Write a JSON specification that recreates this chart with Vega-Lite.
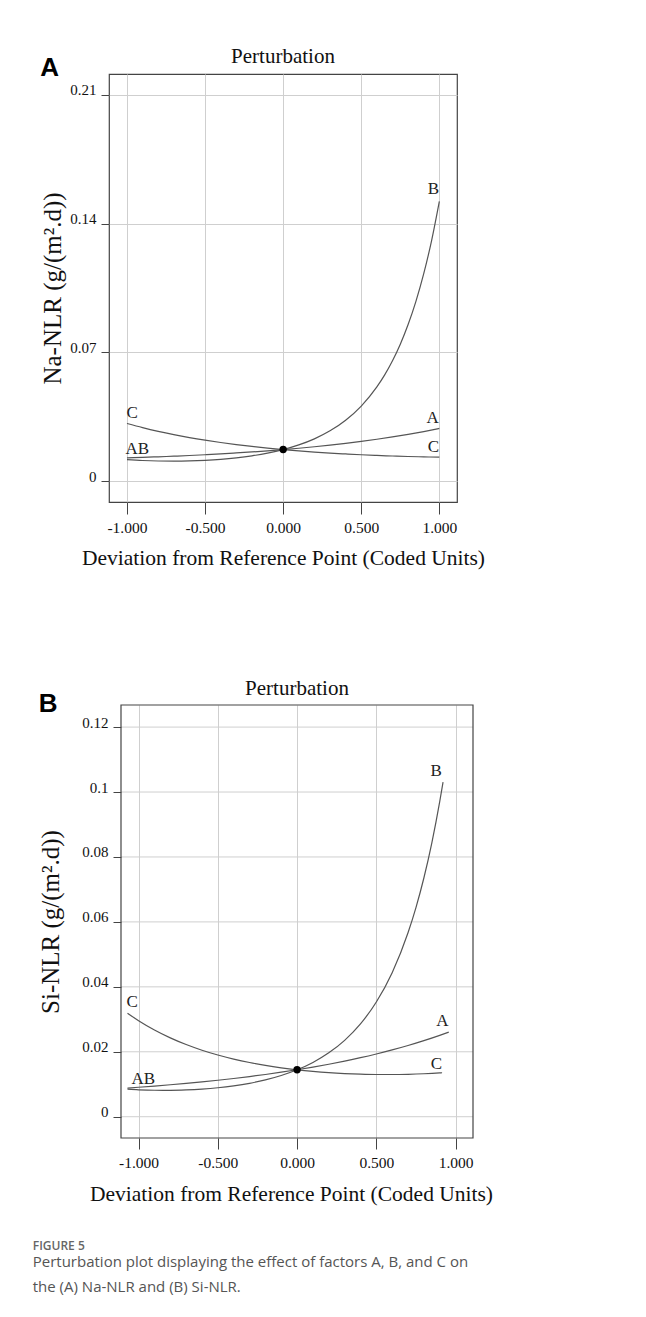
{
  "$schema": "https://vega.github.io/schema/vega-lite/v6.json",
  "background": "white",
  "padding": {"left": 32, "top": 45, "right": 5, "bottom": 5},
  "datasets": {
    "naCurves": [
      {"f":"A","x":-1,"y":0.0127},{"f":"A","x":-0.9,"y":0.01297},{"f":"A","x":-0.8,"y":0.01327},{"f":"A","x":-0.7,"y":0.01361},{"f":"A","x":-0.6,"y":0.01399},{"f":"A","x":-0.5,"y":0.0144},{"f":"A","x":-0.4,"y":0.01486},{"f":"A","x":-0.3,"y":0.01537},{"f":"A","x":-0.2,"y":0.01592},{"f":"A","x":-0.1,"y":0.01653},{"f":"A","x":0,"y":0.0172},{"f":"A","x":0.1,"y":0.01793},{"f":"A","x":0.2,"y":0.01874},{"f":"A","x":0.3,"y":0.01962},{"f":"A","x":0.4,"y":0.02059},{"f":"A","x":0.5,"y":0.02165},{"f":"A","x":0.6,"y":0.02281},{"f":"A","x":0.7,"y":0.02408},{"f":"A","x":0.8,"y":0.02548},{"f":"A","x":0.9,"y":0.02701},{"f":"A","x":1,"y":0.0287},
      {"f":"B","x":-1,"y":0.01176},{"f":"B","x":-0.9,"y":0.01127},{"f":"B","x":-0.8,"y":0.01099},{"f":"B","x":-0.7,"y":0.01091},{"f":"B","x":-0.6,"y":0.01103},{"f":"B","x":-0.5,"y":0.01136},{"f":"B","x":-0.4,"y":0.0119},{"f":"B","x":-0.3,"y":0.0127},{"f":"B","x":-0.2,"y":0.0138},{"f":"B","x":-0.1,"y":0.01527},{"f":"B","x":0,"y":0.0172},{"f":"B","x":0.1,"y":0.01973},{"f":"B","x":0.2,"y":0.02303},{"f":"B","x":0.3,"y":0.02738},{"f":"B","x":0.4,"y":0.03315},{"f":"B","x":0.5,"y":0.04085},{"f":"B","x":0.6,"y":0.05126},{"f":"B","x":0.65,"y":0.0578},{"f":"B","x":0.7,"y":0.06549},{"f":"B","x":0.75,"y":0.0745},{"f":"B","x":0.8,"y":0.08519},{"f":"B","x":0.85,"y":0.0978},{"f":"B","x":0.9,"y":0.11284},{"f":"B","x":0.95,"y":0.1307},{"f":"B","x":1,"y":0.15216},
      {"f":"C","x":-1,"y":0.0314},{"f":"C","x":-0.9,"y":0.02914},{"f":"C","x":-0.8,"y":0.02712},{"f":"C","x":-0.7,"y":0.02533},{"f":"C","x":-0.6,"y":0.02373},{"f":"C","x":-0.5,"y":0.02231},{"f":"C","x":-0.4,"y":0.02104},{"f":"C","x":-0.3,"y":0.01991},{"f":"C","x":-0.2,"y":0.0189},{"f":"C","x":-0.1,"y":0.018},{"f":"C","x":0,"y":0.0172},{"f":"C","x":0.1,"y":0.01649},{"f":"C","x":0.2,"y":0.01586},{"f":"C","x":0.3,"y":0.0153},{"f":"C","x":0.4,"y":0.01482},{"f":"C","x":0.5,"y":0.01439},{"f":"C","x":0.6,"y":0.01402},{"f":"C","x":0.7,"y":0.01371},{"f":"C","x":0.8,"y":0.01345},{"f":"C","x":0.9,"y":0.01323},{"f":"C","x":1,"y":0.01306}
    ],
    "naLabels": [
      {"t":"B","x":0.962,"y":0.156},{"t":"A","x":0.957,"y":0.0316},{"t":"C","x":0.962,"y":0.0159},{"t":"C","x":-0.966,"y":0.0344},{"t":"AB","x":-0.934,"y":0.0147}
    ],
    "naRef": [{"x":0,"y":0.0172}],
    "siCurves": [
      {"f":"A","x":-1.07,"y":0.00884},{"f":"A","x":-1,"y":0.00908},{"f":"A","x":-0.9,"y":0.00945},{"f":"A","x":-0.8,"y":0.00985},{"f":"A","x":-0.7,"y":0.01028},{"f":"A","x":-0.6,"y":0.01074},{"f":"A","x":-0.5,"y":0.01124},{"f":"A","x":-0.4,"y":0.01178},{"f":"A","x":-0.3,"y":0.01237},{"f":"A","x":-0.2,"y":0.01301},{"f":"A","x":-0.1,"y":0.01371},{"f":"A","x":0,"y":0.01446},{"f":"A","x":0.1,"y":0.01528},{"f":"A","x":0.2,"y":0.01617},{"f":"A","x":0.3,"y":0.01713},{"f":"A","x":0.4,"y":0.01818},{"f":"A","x":0.5,"y":0.01933},{"f":"A","x":0.6,"y":0.02058},{"f":"A","x":0.7,"y":0.02194},{"f":"A","x":0.8,"y":0.02344},{"f":"A","x":0.9,"y":0.02507},{"f":"A","x":0.957,"y":0.02606},
      {"f":"B","x":-1.07,"y":0.00849},{"f":"B","x":-1,"y":0.0083},{"f":"B","x":-0.9,"y":0.00815},{"f":"B","x":-0.8,"y":0.00813},{"f":"B","x":-0.7,"y":0.00825},{"f":"B","x":-0.6,"y":0.00851},{"f":"B","x":-0.5,"y":0.00892},{"f":"B","x":-0.4,"y":0.00951},{"f":"B","x":-0.3,"y":0.0103},{"f":"B","x":-0.2,"y":0.01135},{"f":"B","x":-0.1,"y":0.0127},{"f":"B","x":0,"y":0.01446},{"f":"B","x":0.1,"y":0.01673},{"f":"B","x":0.2,"y":0.01968},{"f":"B","x":0.3,"y":0.02353},{"f":"B","x":0.4,"y":0.02859},{"f":"B","x":0.5,"y":0.03533},{"f":"B","x":0.6,"y":0.04437},{"f":"B","x":0.7,"y":0.05665},{"f":"B","x":0.75,"y":0.0644},{"f":"B","x":0.8,"y":0.07352},{"f":"B","x":0.85,"y":0.08428},{"f":"B","x":0.9,"y":0.09702},{"f":"B","x":0.921,"y":0.10304},
      {"f":"C","x":-1.07,"y":0.03189},{"f":"C","x":-1,"y":0.02957},{"f":"C","x":-0.9,"y":0.02671},{"f":"C","x":-0.8,"y":0.02429},{"f":"C","x":-0.7,"y":0.02224},{"f":"C","x":-0.6,"y":0.02049},{"f":"C","x":-0.5,"y":0.01901},{"f":"C","x":-0.4,"y":0.01776},{"f":"C","x":-0.3,"y":0.0167},{"f":"C","x":-0.2,"y":0.01581},{"f":"C","x":-0.1,"y":0.01507},{"f":"C","x":0,"y":0.01446},{"f":"C","x":0.1,"y":0.01397},{"f":"C","x":0.2,"y":0.01358},{"f":"C","x":0.3,"y":0.0133},{"f":"C","x":0.4,"y":0.01311},{"f":"C","x":0.5,"y":0.01301},{"f":"C","x":0.6,"y":0.013},{"f":"C","x":0.7,"y":0.01307},{"f":"C","x":0.8,"y":0.01323},{"f":"C","x":0.9,"y":0.01349},{"f":"C","x":0.915,"y":0.01354}
    ],
    "siLabels": [
      {"t":"B","x":0.877,"y":0.1048},{"t":"A","x":0.917,"y":0.0279},{"t":"C","x":0.879,"y":0.01477},{"t":"C","x":-1.041,"y":0.03376},{"t":"AB","x":-0.97,"y":0.01003}
    ],
    "siRef": [{"x":0,"y":0.01446}],
    "siGrid": [{"g":0},{"g":0.02},{"g":0.04},{"g":0.06},{"g":0.08},{"g":0.1},{"g":0.12}]
  },
  "columns": 1,
  "align": "none",
  "spacing": 108,
  "title": {
    "text": "FIGURE 5",
    "subtitle": ["Perturbation plot displaying the effect of factors A, B, and C on", "the (A) Na-NLR and (B) Si-NLR."],
    "orient": "bottom",
    "anchor": "start",
    "frame": "bounds",
    "font": "Open Sans",
    "fontSize": 12,
    "fontWeight": 600,
    "color": "#666666",
    "subtitleFont": "Open Sans",
    "subtitleFontSize": 15,
    "subtitleColor": "#555555",
    "subtitleLineHeight": 25,
    "subtitlePadding": 2,
    "offset": 36,
    "dx": -6
  },
  "concat": [
    {
      "title": {"text": "A", "anchor": "start", "frame": "bounds", "font": "Liberation Sans", "fontWeight": "bold", "fontSize": 26, "color": "#000000", "offset": -57, "baseline": "alphabetic"},
      "vconcat": [
        {
          "width": 348,
          "height": 428,
          "title": {"text": "Perturbation", "anchor": "middle", "frame": "group", "font": "Liberation Serif", "fontSize": 21, "fontWeight": "normal", "color": "#111111", "offset": -10, "baseline": "alphabetic"},
          "layer": [
            {
              "data": {"name": "naCurves"},
              "mark": {"type": "line", "interpolate": "monotone", "color": "#555555", "strokeWidth": 1.2},
              "encoding": {
                "x": {"field": "x", "type": "quantitative", "scale": {"domain": [-1.115, 1.113], "nice": false, "zero": false},
                  "axis": {"values": [-1, -0.5, 0, 0.5, 1], "labelExpr": "datum.value < 0 ? '-' + format(-datum.value, '.3f') : format(datum.value, '.3f')", "title": "Deviation from Reference Point (Coded Units)", "titleFontSize": 21.5, "titlePadding": 12, "labelFontSize": 15.5, "tickSize": 12, "labelPadding": 6}},
                "y": {"field": "y", "type": "quantitative", "scale": {"domain": [-0.0113, 0.2214], "nice": false, "zero": false},
                  "axis": {"values": [0, 0.07, 0.14, 0.21], "format": ".2~f", "title": "Na-NLR (g/(m².d))", "titleFontSize": 25, "titlePadding": 4, "labelFontSize": 15, "labelBaseline": "alphabetic", "tickSize": 8, "labelPadding": 5}},
                "detail": {"field": "f"}
              }
            },
            {
              "data": {"name": "naLabels"},
              "mark": {"type": "text", "font": "Liberation Serif", "fontSize": 17, "align": "center", "baseline": "alphabetic", "color": "#222222"},
              "encoding": {
                "x": {"field": "x", "type": "quantitative"},
                "y": {"field": "y", "type": "quantitative"},
                "text": {"field": "t"}
              }
            },
            {
              "data": {"name": "naRef"},
              "mark": {"type": "point", "filled": true, "color": "#000000", "size": 55, "opacity": 1},
              "encoding": {
                "x": {"field": "x", "type": "quantitative"},
                "y": {"field": "y", "type": "quantitative"}
              }
            }
          ]
        }
      ]
    },
    {
      "title": {"text": "B", "anchor": "start", "frame": "bounds", "font": "Liberation Sans", "fontWeight": "bold", "fontSize": 26, "color": "#000000", "offset": -60, "baseline": "alphabetic"},
      "vconcat": [
        {
          "width": 364,
          "height": 433,
          "view": {"stroke": null},
          "title": {"text": "Perturbation", "anchor": "middle", "frame": "group", "font": "Liberation Serif", "fontSize": 21, "fontWeight": "normal", "color": "#111111", "offset": -12, "baseline": "alphabetic", "dx": 6},
          "layer": [
            {
              "data": {"name": "siGrid"},
              "mark": {"type": "rule", "color": "#cfcfcf", "strokeWidth": 1},
              "encoding": {
                "y": {"field": "g", "type": "quantitative"},
                "x": {"datum": -1.111, "type": "quantitative"},
                "x2": {"datum": 1.11}
              }
            },
            {
              "data": {"name": "siCurves"},
              "mark": {"type": "line", "interpolate": "monotone", "color": "#555555", "strokeWidth": 1.2},
              "encoding": {
                "x": {"field": "x", "type": "quantitative", "scale": {"domain": [-1.1867, 1.11], "nice": false, "zero": false},
                  "axis": {"values": [-1, -0.5, 0, 0.5, 1], "labelExpr": "datum.value < 0 ? '-' + format(-datum.value, '.3f') : format(datum.value, '.3f')", "title": "Deviation from Reference Point (Coded Units)", "titleFontSize": 21.5, "titlePadding": 13, "labelFontSize": 15.5, "tickSize": 11, "labelPadding": 6}},
                "y": {"field": "y", "type": "quantitative", "scale": {"domain": [-0.00655, 0.1268], "nice": false, "zero": false},
                  "axis": {"values": [0, 0.02, 0.04, 0.06, 0.08, 0.1, 0.12], "format": ".2~f", "title": "Si-NLR (g/(m².d))", "titleFontSize": 25, "titlePadding": 18, "labelFontSize": 15, "labelBaseline": "alphabetic", "tickSize": 8, "labelPadding": 5, "grid": false, "offset": -12}},
                "detail": {"field": "f"}
              }
            },
            {
              "data": {"name": "siLabels"},
              "mark": {"type": "text", "font": "Liberation Serif", "fontSize": 17, "align": "center", "baseline": "alphabetic", "color": "#222222"},
              "encoding": {
                "x": {"field": "x", "type": "quantitative"},
                "y": {"field": "y", "type": "quantitative"},
                "text": {"field": "t"}
              }
            },
            {
              "data": {"name": "siRef"},
              "mark": {"type": "point", "filled": true, "color": "#000000", "size": 55, "opacity": 1},
              "encoding": {
                "x": {"field": "x", "type": "quantitative"},
                "y": {"field": "y", "type": "quantitative"}
              }
            },
            {
              "data": {"values": [{}]},
              "mark": {"type": "rect", "filled": false, "color": "#444444", "strokeWidth": 1.2},
              "encoding": {
                "x": {"datum": -1.111, "type": "quantitative"},
                "x2": {"datum": 1.11},
                "y": {"datum": -0.00655, "type": "quantitative"},
                "y2": {"datum": 0.1268}
              }
            }
          ]
        }
      ]
    }
  ],
  "config": {
    "font": "Liberation Serif",
    "view": {"stroke": "#444444", "strokeWidth": 1.2},
    "axis": {"grid": true, "gridColor": "#cfcfcf", "gridWidth": 1, "domain": false, "tickColor": "#444444", "labelFont": "Liberation Serif", "titleFont": "Liberation Serif", "labelColor": "#111111", "titleColor": "#111111", "titleFontWeight": "normal", "labelFlush": false, "labelOverlap": false}
  }
}
